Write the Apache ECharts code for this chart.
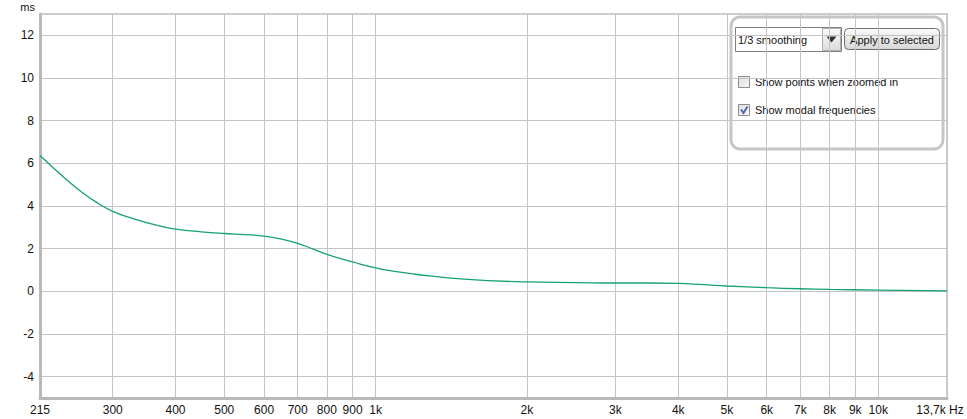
<!DOCTYPE html>
<html><head><meta charset="utf-8">
<script src="https://cdn.jsdelivr.net/npm/echarts@6/dist/echarts.min.js"></script>
<style>html,body{margin:0;padding:0;background:#fff}#c{width:967px;height:419px}</style>
</head><body><div id="c"></div><script>
// Group delay (ms) vs frequency (Hz)
const freqs   = [215, 240, 260, 280, 300, 325, 350, 375, 400, 450, 500, 550, 600, 650, 700, 750, 800, 900, 1000, 1100, 1200, 1500, 2000, 2500, 3000, 3500, 4000, 4500, 5000, 6000, 7000, 8000, 10000, 13700];
const delayMs = [6.37, 5.34, 4.66, 4.14, 3.75, 3.45, 3.22, 3.05, 2.92, 2.79, 2.71, 2.66, 2.59, 2.45, 2.25, 1.99, 1.73, 1.38, 1.10, 0.92, 0.80, 0.57, 0.44, 0.41, 0.39, 0.39, 0.37, 0.31, 0.25, 0.17, 0.12, 0.09, 0.06, 0.02];
const xTickFreqs  = [215, 300, 400, 500, 600, 700, 800, 900, 1000, 2000, 3000, 4000, 5000, 6000, 7000, 8000, 9000, 10000, 13700];
const xTickLabels = ['215', '300', '400', '500', '600', '700', '800', '900', '1k', '2k', '3k', '4k', '5k', '6k', '7k', '8k', '9k', '10k', '13,7k Hz'];
const yTicks = [-4, -2, 0, 2, 4, 6, 8, 10, 12];
const yMin = -5, yMax = 13;

const FONT = 'Liberation Sans';
const xTickVals = xTickFreqs.map(f => Math.log10(f));
const seriesData = freqs.map((f, i) => [Math.log10(f), delayMs[i]]);

function xLabel(v) {
  let best = 0, bd = Infinity;
  xTickVals.forEach((t, i) => { const d = Math.abs(t - v); if (d < bd) { bd = d; best = i; } });
  const s = xTickLabels[best];
  return best === xTickLabels.length - 1 ? '{last|' + s + '}' : s;
}

const chart = echarts.init(document.getElementById('c'), null, {renderer: 'svg'});
const panelX = 731, panelY = 17;
const PF = 11;
chart.setOption({
  animation: false,
  backgroundColor: '#fff',
  grid: {left: 40, right: 20, top: 14, bottom: 21, show: true, borderColor: '#cdcdcd', borderWidth: 2, backgroundColor: '#fff'},
  xAxis: {
    type: 'value',
    min: Math.log10(xTickFreqs[0]),
    max: Math.log10(xTickFreqs[xTickFreqs.length - 1]),
    axisLine: {show: true, onZero: false, lineStyle: {color: '#b9b9b9', width: 3}},
    axisTick: {show: false, customValues: xTickVals},
    axisLabel: {customValues: xTickVals, formatter: xLabel, color: '#111', fontFamily: FONT, fontSize: 12, margin: 6,
      rich: {last: {color: '#111', fontFamily: FONT, fontSize: 12, padding: [0, 14, 0, 0]}}},
    splitLine: {show: true, lineStyle: {color: '#c4c4c4', width: 1}}
  },
  yAxis: {
    type: 'value', min: yMin, max: yMax,
    axisLine: {show: true, onZero: false, lineStyle: {color: '#b9b9b9', width: 3}},
    axisTick: {show: false, customValues: yTicks},
    axisLabel: {customValues: yTicks, color: '#111', fontFamily: FONT, fontSize: 12, margin: 6},
    splitLine: {show: true, lineStyle: {color: '#c4c4c4', width: 1}}
  },
  series: [{
    type: 'line', data: seriesData, smooth: 0.5, showSymbol: false,
    lineStyle: {color: '#16a077', width: 1.3}
  }],
  graphic: [
    {type: 'text', x: 35, y: 7, style: {text: 'ms', fontFamily: FONT, fontSize: 11, fill: '#111', textAlign: 'right', textVerticalAlign: 'middle'}},
    {type: 'group', x: panelX, y: panelY, children: [
      {type: 'rect', shape: {x: 0, y: 0, width: 212, height: 132, r: 9}, style: {fill: '#fff', stroke: '#c6c6c6', lineWidth: 3}},
      // dropdown
      {type: 'rect', shape: {x: 4.5, y: 10.5, width: 106, height: 24}, style: {fill: '#fff', stroke: '#7f7f7f', lineWidth: 1}},
      {type: 'rect', shape: {x: 91.5, y: 11.5, width: 18, height: 22}, style: {fill: new echarts.graphic.LinearGradient(0, 0, 0, 1, [{offset: 0, color: '#fafafa'}, {offset: 1, color: '#dcdcdc'}]), stroke: '#b0b0b0', lineWidth: 1}},
      {type: 'polygon', shape: {points: [[95.5, 19.5], [105.5, 19.5], [100.5, 25.5]]}, style: {fill: '#333'}},
      {type: 'text', x: 7, y: 22.5, style: {text: '1/3 smoothing', fontFamily: FONT, fontSize: PF, fill: '#111', textVerticalAlign: 'middle'}},
      // button
      {type: 'rect', shape: {x: 113.5, y: 11.5, width: 95, height: 21, r: 4}, style: {fill: new echarts.graphic.LinearGradient(0, 0, 0, 1, [{offset: 0, color: '#fbfbfb'}, {offset: 1, color: '#d6d6d6'}]), stroke: '#6e6e6e', lineWidth: 1}},
      {type: 'text', x: 161, y: 22.5, style: {text: 'Apply to selected', fontFamily: FONT, fontSize: PF, fill: '#111', textAlign: 'center', textVerticalAlign: 'middle'}},
      // checkbox 1
      {type: 'rect', shape: {x: 7.5, y: 59.5, width: 11, height: 11}, style: {fill: new echarts.graphic.LinearGradient(0, 0, 1, 1, [{offset: 0, color: '#dedede'}, {offset: 1, color: '#fafafa'}]), stroke: '#8e8e8e', lineWidth: 1}},
      {type: 'text', x: 24, y: 65, style: {text: 'Show points when zoomed in', fontFamily: FONT, fontSize: PF, fill: '#111', textVerticalAlign: 'middle'}},
      // checkbox 2
      {type: 'rect', shape: {x: 7.5, y: 87.5, width: 11, height: 11}, style: {fill: new echarts.graphic.LinearGradient(0, 0, 1, 1, [{offset: 0, color: '#dedede'}, {offset: 1, color: '#fafafa'}]), stroke: '#8e8e8e', lineWidth: 1}},
      {type: 'polyline', shape: {points: [[10, 92.5], [12.5, 96], [16.5, 89.5]]}, style: {stroke: '#4a63ad', lineWidth: 1.8, fill: null}},
      {type: 'text', x: 24, y: 93, style: {text: 'Show modal frequencies', fontFamily: FONT, fontSize: PF, fill: '#111', textVerticalAlign: 'middle'}}
    ]}
  ]
});
</script></body></html>
